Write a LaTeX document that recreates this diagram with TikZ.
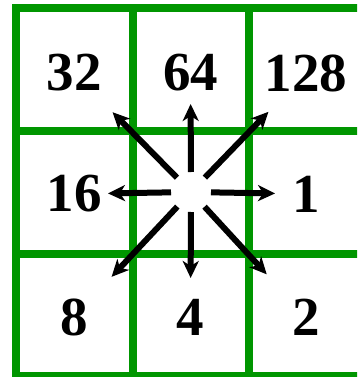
\documentclass[tikz,border=0pt]{standalone}
\usepackage{fontspec}
\setmainfont{Liberation Serif}
\usetikzlibrary{arrows.meta}
\definecolor{gridgreen}{RGB}{0,150,0}

\begin{document}
\begin{tikzpicture}[x=1pt, y=-1pt, >={Stealth[length=17pt,width=16pt,inset=5pt]},
  cell/.style={font=\fontsize{55}{60}\selectfont\bfseries, inner sep=0pt},
  dir/.style={->, line width=6pt}]
  \useasboundingbox (0,0) rectangle (357,377);
  \clip (0,0) rectangle (357,377);
  % grid
  \draw[gridgreen, line width=8pt] (16,8) rectangle (364.5,376);
  \draw[gridgreen, line width=8pt] (132.5,8) -- (132.5,376) (248.5,8) -- (248.5,376);
  \draw[gridgreen, line width=8pt] (16,131) -- (364.5,131) (16,254) -- (364.5,254);
  % weights
  \node[cell] (n32) at (74,73) {32};
  \node[cell] (n64) at (190.5,73) {64};
  \node[cell] (n128) at (306,73) {128};
  \node[cell] (n16) at (74,194) {16};
  \node[cell] (n1) at (306,194) {1};
  \node[cell] (n8) at (74,317) {8};
  \node[cell] (n4) at (190.5,317) {4};
  \node[cell] (n2) at (306,317) {2};
  \coordinate (c) at (191,192);
  \foreach \n/\e in {64/31,4/39,16/34,1/31,32/55,128/54,8/55,2/58}
    \draw[dir, shorten <=20pt, shorten >=\e pt] (c) -- (n\n.center);
\end{tikzpicture}
\end{document}
